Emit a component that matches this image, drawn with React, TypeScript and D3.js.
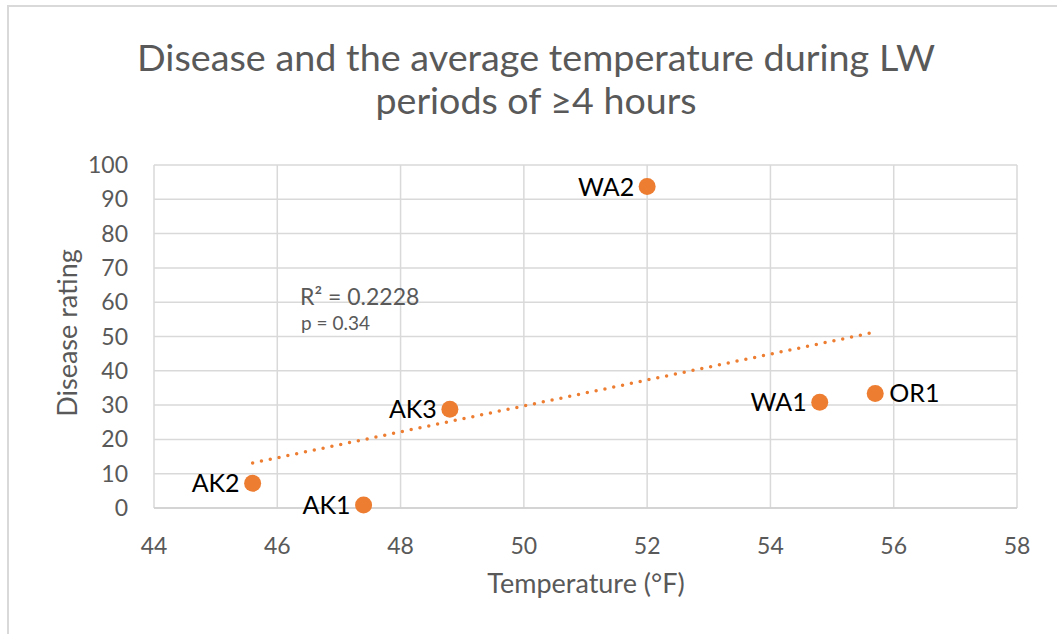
import React from "react";
import * as d3 from "d3";

const siteLabels = ["AK2", "AK1", "AK3", "WA2", "WA1", "OR1"];
const temperatures = [45.6, 47.4, 48.8, 52.0, 54.8, 55.7];
const diseaseRatings = [7.2, 0.9, 28.8, 93.7, 30.8, 33.4];
const labelSides = ["left", "left", "left", "left", "left", "right"];
const xTicks = [44, 46, 48, 50, 52, 54, 56, 58];
const yTicks = [0, 10, 20, 30, 40, 50, 60, 70, 80, 90, 100];
const titleLines = ["Disease and the average temperature during LW", "periods of ≥4 hours"];
const statLines = ["R² = 0.2228", "p = 0.34"];

const W = 1057;
const H = 634;
const FONT = "Lato, 'Open Sans', sans-serif";
const ORANGE = "#ED7D31";
const GRAY_TEXT = "#595959";
const GRID = "#d9d9d9";

export default function App() {
  const x = d3.scaleLinear().domain([44, 58]).range([154, 1017]);
  const y = d3.scaleLinear().domain([0, 100]).range([508, 165]);

  // linear regression trendline
  const mx = d3.mean(temperatures) as number;
  const my = d3.mean(diseaseRatings) as number;
  let sxy = 0;
  let sxx = 0;
  temperatures.forEach((t, i) => {
    sxy += (t - mx) * (diseaseRatings[i] - my);
    sxx += (t - mx) * (t - mx);
  });
  const slope = sxy / sxx;
  const intercept = my - slope * mx;
  const x0 = d3.min(temperatures) as number;
  const x1 = d3.max(temperatures) as number;
  const line = d3
    .line<number>()
    .x((d) => x(d))
    .y((d) => y(intercept + slope * d));
  const trendPath = line([x0, x1]) || "";

  return (
    <svg
      width={W}
      height={H}
      style={{ position: "absolute", left: 0, top: 0, background: "#fff" }}
      fontFamily={FONT}
    >
      <rect x={0} y={0} width={W} height={H} fill="#fff" />
      {/* chart border (top/left visible) */}
      <line x1={7} y1={6} x2={W} y2={6} stroke={GRID} strokeWidth={2} />
      <line x1={8} y1={6} x2={8} y2={H} stroke={GRID} strokeWidth={2} />

      {/* title */}
      <text x={536} y={71} textAnchor="middle" fontSize={37} fill={GRAY_TEXT} textLength={798} lengthAdjust="spacingAndGlyphs">
        {titleLines[0]}
      </text>
      <text x={536} y={114} textAnchor="middle" fontSize={37} fill={GRAY_TEXT} textLength={321} lengthAdjust="spacingAndGlyphs">
        {titleLines[1]}
      </text>

      {/* gridlines */}
      {yTicks.map((t) => (
        <line key={"hy" + t} x1={x(44)} x2={x(58)} y1={y(t)} y2={y(t)} stroke={GRID} strokeWidth={1.5} />
      ))}
      {xTicks.map((t) => (
        <line key={"vx" + t} x1={x(t)} x2={x(t)} y1={y(0)} y2={y(100)} stroke={GRID} strokeWidth={1.5} />
      ))}
      <line x1={x(44)} x2={x(58)} y1={y(0)} y2={y(0)} stroke="#cfcfcf" strokeWidth={1.5} />

      {/* y tick labels */}
      {yTicks.map((t) => (
        <text key={"yl" + t} x={128} y={y(t) + 8} textAnchor="end" fontSize={23} fill={GRAY_TEXT}>
          {t}
        </text>
      ))}
      {/* x tick labels */}
      {xTicks.map((t) => (
        <text key={"xl" + t} x={x(t)} y={554} textAnchor="middle" fontSize={23} fill={GRAY_TEXT}>
          {t}
        </text>
      ))}

      {/* axis titles */}
      <text x={586} y={593} textAnchor="middle" fontSize={27} fill={GRAY_TEXT}>
        Temperature (°F)
      </text>
      <text transform="translate(77,333) rotate(-90)" textAnchor="middle" fontSize={27} fill={GRAY_TEXT}>
        Disease rating
      </text>

      {/* trendline */}
      <path d={trendPath} fill="none" stroke={ORANGE} strokeWidth={3.5} strokeDasharray="0 9" strokeLinecap="round" />

      {/* stats */}
      <text x={300} y={305} fontSize={23} fill={GRAY_TEXT}>
        {statLines[0]}
      </text>
      <text x={301} y={330} fontSize={19} fill={GRAY_TEXT}>
        {statLines[1]}
      </text>

      {/* points */}
      {temperatures.map((t, i) => (
        <g key={siteLabels[i]}>
          <circle cx={x(t)} cy={y(diseaseRatings[i])} r={8.5} fill={ORANGE} />
          <text
            x={labelSides[i] === "left" ? x(t) - 13 : x(t) + 14}
            y={y(diseaseRatings[i]) + 9}
            textAnchor={labelSides[i] === "left" ? "end" : "start"}
            fontSize={25}
            fill="#000"
          >
            {siteLabels[i]}
          </text>
        </g>
      ))}
    </svg>
  );
}
